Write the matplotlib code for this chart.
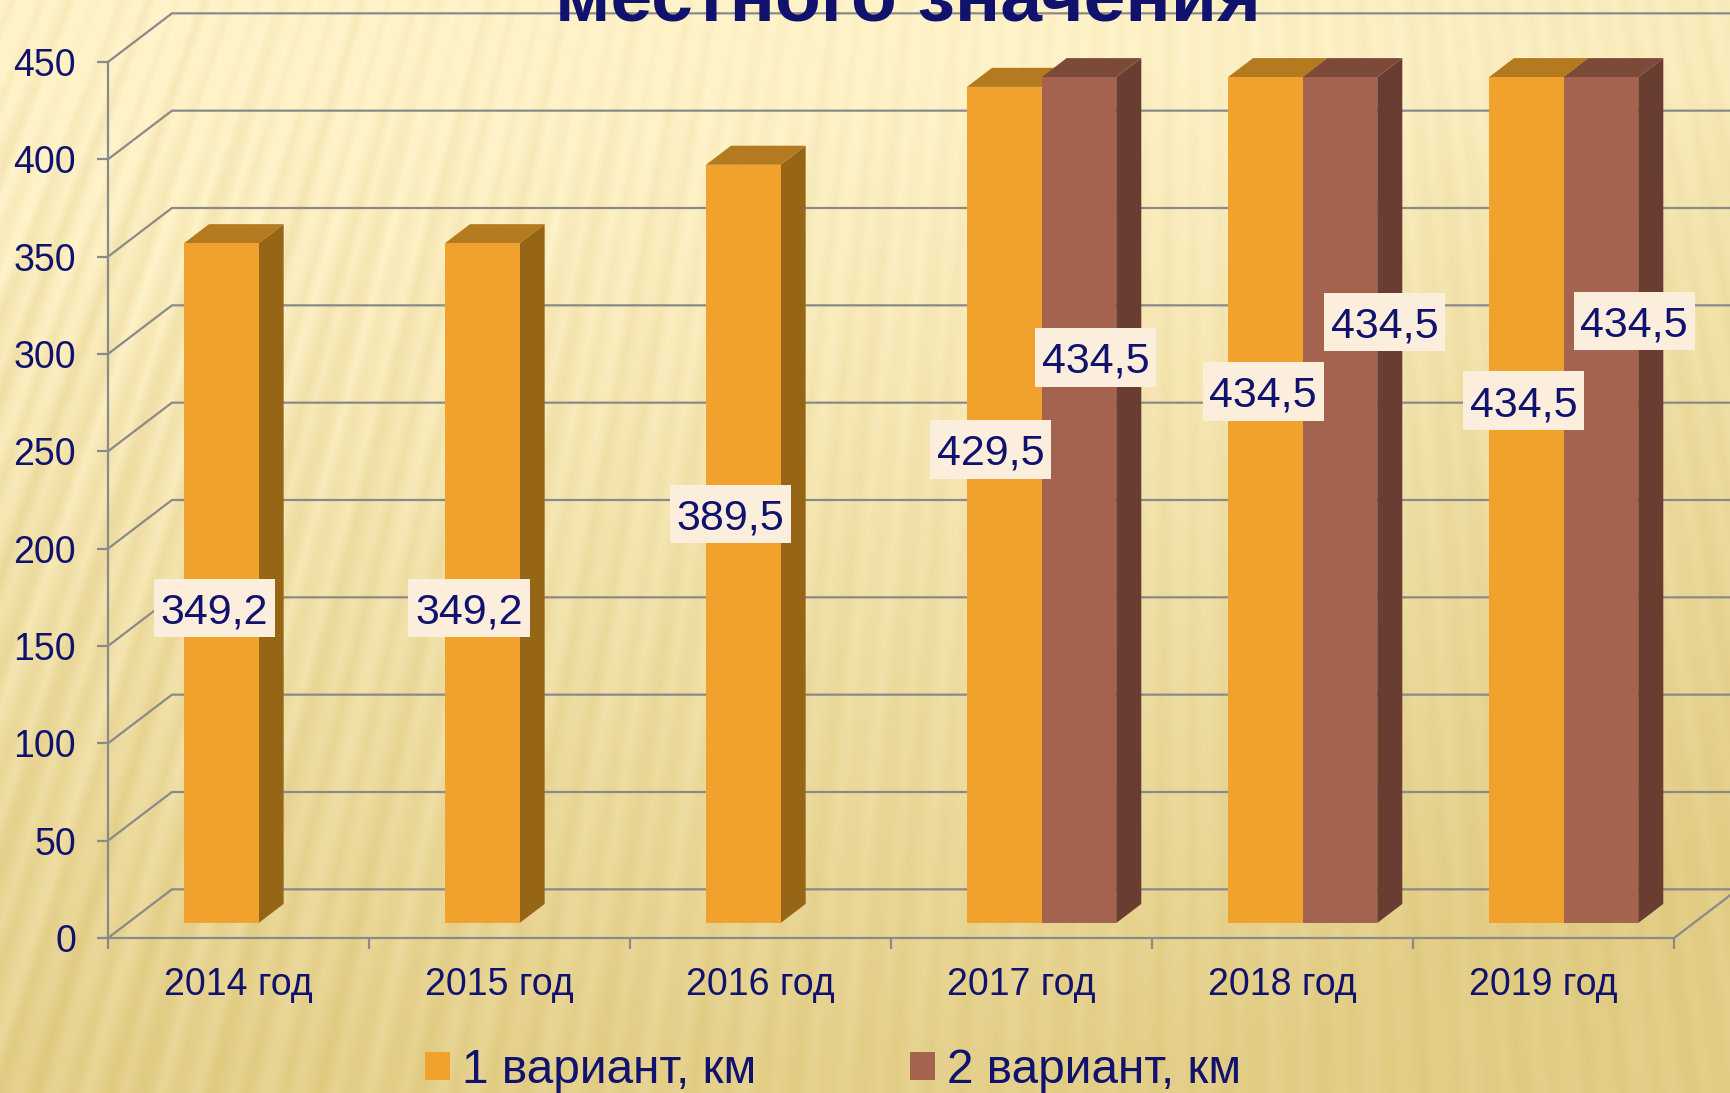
# -*- coding: utf-8 -*-
import numpy as np
import matplotlib
matplotlib.use('Agg')
import matplotlib.pyplot as plt
from matplotlib.patches import Polygon, Rectangle, Patch

plt.rcParams['font.family'] = ['Liberation Sans', 'DejaVu Sans']

# data
years = ['2014 год', '2015 год', '2016 год', '2017 год', '2018 год', '2019 год']
variant1 = [349.2, 349.2, 389.5, 429.5, 434.5, 434.5]
variant2 = [None, None, None, 434.5, 434.5, 434.5]
yticks = [0, 50, 100, 150, 200, 250, 300, 350, 400, 450]
name1 = '1 вариант, км'
name2 = '2 вариант, км'
title = 'местного значения'

# where the value labels were dragged to in the slide (category units, value units)
label1_pos = [(0.407, 169.6), (1.383, 169.6), (2.385, 217.8), (3.382, 251), (4.426, 280.8), (5.424, 276.1)]
label2_pos = [None, None, None, (3.784, 298.3), (4.891, 316.4), (5.847, 316.8)]

navy = '#10126E'
gridc = '#8A8A8A'

W, H = 1731, 1093
fig = plt.figure(figsize=(W / 100, H / 100), dpi=100)

# background: cream to tan gradient with a fan of soft stripes
bg = fig.add_axes([0, 0, 1, 1], zorder=0)
bg.axis('off')
yy, xx = np.mgrid[0:H, 0:W]
ang = np.arctan2(xx - 1200.0, yy + 2800.0)
stripes = (np.sin(ang * 740) + 0.2 * np.sin(ang * 1370 + 1.0) + 0.5 * np.sin(ang * 270 + 2.0)) / 1.7
t = np.clip((yy - 60) / 1000.0, 0, 1) * 0.92 + 0.2 * np.clip((xx - 1000) / 731.0, 0, 1)
# faint darker patch in the upper right of the slide
t = t + 0.07 / ((1 + np.exp(-(xx - 1400) / 30.0)) * (1 + np.exp(-(yy - 130) / 20.0)))
t = np.clip(t, 0, 1)
amp = 0.09 + 0.16 * np.clip((1000 - xx) / 1000.0, 0, 1) * (1 - 0.3 * t)
t2 = np.clip(t - amp * stripes, 0, 1.1)
top = np.array([254, 242, 200]) / 255.0
bot = np.array([226, 205, 133]) / 255.0
img = top + (bot - top) * t2[..., None]
bg.imshow(np.clip(img, 0, 1), aspect='auto', interpolation='bilinear')

ax = fig.add_axes([108 / W, 1 - 938 / H, (1674 - 108) / W, 876 / H], zorder=1)
ax.patch.set_alpha(0)
ax.set_xlim(0, 6)
ax.set_ylim(0, 450)

# depth of the fake 3d box, in axis units
wall_dx, wall_dy = 0.245, 25.0
base_dy = 7.7
bar_off, bar_w = 0.291, 0.286
bar_dx, bar_dy = 0.096, 9.8

# gridlines on side wall and back wall
for v in yticks:
    ax.plot([0, wall_dx, 6 + wall_dx], [v, v + wall_dy, v + wall_dy], color=gridc, lw=1.6, clip_on=False, zorder=1)
ax.plot([6, 6 + wall_dx], [0, wall_dy], color=gridc, lw=1.6, clip_on=False, zorder=1)


def bar3d(x, v, front, side, topc, z):
    y0 = base_dy
    y1 = base_dy + v
    ax.add_patch(Polygon([(x + bar_w, y0), (x + bar_w + bar_dx, y0 + bar_dy),
                          (x + bar_w + bar_dx, y1 + bar_dy), (x + bar_w, y1)],
                         fc=side, ec='none', clip_on=False, zorder=z))
    ax.add_patch(Polygon([(x, y1), (x + bar_dx, y1 + bar_dy),
                          (x + bar_w + bar_dx, y1 + bar_dy), (x + bar_w, y1)],
                         fc=topc, ec='none', clip_on=False, zorder=z))
    ax.add_patch(Rectangle((x, y0), bar_w, v, fc=front, ec='none', clip_on=False, zorder=z))


# first series first, the second one covers its side face
for i in range(len(years)):
    bar3d(i + bar_off, variant1[i], '#F1A22D', '#976516', '#B47A20', 3)
    if variant2[i] is not None:
        bar3d(i + bar_off + bar_w, variant2[i], '#A4634E', '#6A3D32', '#7D4A3A', 3)


def value_label(pos, v):
    x, y = pos
    ax.add_patch(Rectangle((x - 0.232, y - 15), 0.464, 30, fc='#FBEEDD', ec='none', clip_on=False, zorder=5))
    ax.text(x, y, ('%.1f' % v).replace('.', ','), ha='center', va='center_baseline', fontsize=31, color=navy, zorder=6)


for i in range(len(years)):
    value_label(label1_pos[i], variant1[i])
    if variant2[i] is not None:
        value_label(label2_pos[i], variant2[i])

# axes
for s in ['top', 'right']:
    ax.spines[s].set_visible(False)
for s in ['left', 'bottom']:
    ax.spines[s].set_color(gridc)
    ax.spines[s].set_linewidth(1.6)
ax.set_yticks(yticks)
ax.set_yticklabels([str(v) for v in yticks], fontsize=27, color=navy)
ax.tick_params(axis='y', length=8, width=1.6, color=gridc, pad=15)
ax.set_xticks(np.arange(len(years)) + 0.5)
ax.set_xticklabels(years, fontsize=27, color=navy)
ax.set_xticks(np.arange(len(years) + 1), minor=True)
ax.tick_params(axis='x', which='major', length=0, pad=21)
ax.tick_params(axis='x', which='minor', length=8, width=1.6, color=gridc)

# legend
hs = [Patch(fc='#F1A22D', ec='none', label=name1), Patch(fc='#A4634E', ec='none', label=name2)]
leg = ax.legend(handles=hs, ncol=2, loc='center', bbox_to_anchor=(833 / W, 1 - 1070.5 / H), bbox_transform=fig.transFigure,
                frameon=False, fontsize=34.4, handlelength=0.53, handleheight=0.53, handletextpad=0.25,
                columnspacing=3.2, borderpad=0, labelcolor=navy)

# title is cut off by the top edge in the original
fig.text(908 / W, 1 - 21.7 / H, title, ha='center', va='baseline', fontsize=54, fontweight='bold', color=navy, zorder=10)

fig.savefig('out.png', dpi=100)
